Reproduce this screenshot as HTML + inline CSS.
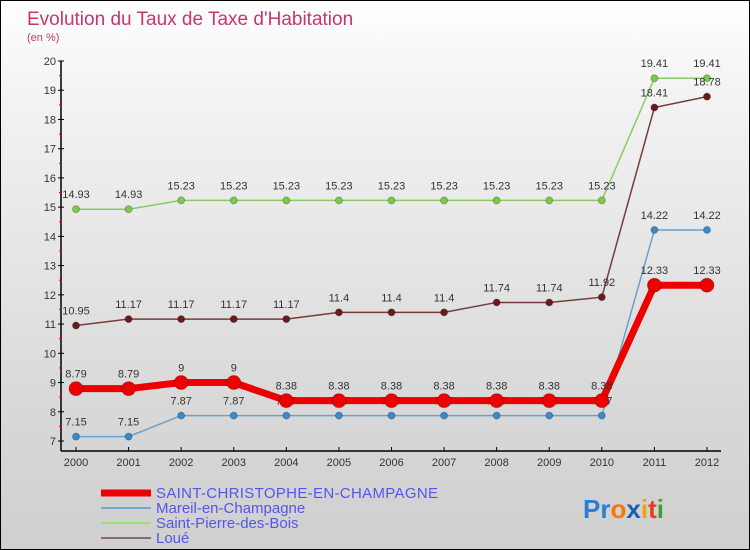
<!DOCTYPE html>
<html><head><meta charset="utf-8"><style>
body{margin:0;}
#c{position:relative;width:748px;height:548px;border:1px solid #000;background:linear-gradient(#fff,#f4f4f4 15%,#d8d8d8 75%,#cfcfcf);font-family:"Liberation Sans",sans-serif;overflow:hidden}
</style></head><body>
<div id="c">
<svg id="s" width="748" height="548" xmlns="http://www.w3.org/2000/svg" style="position:absolute;left:0;top:0">
<text x="26" y="24" font-size="19" fill="#c8356a">Evolution du Taux de Taxe d'Habitation</text>
<text x="26" y="40" font-size="11" fill="#c8356a">(en %)</text>
<g id="axes"></g><g id="series"></g>
<g font-size="15" fill="#5555ee">
<line x1="100" y1="492" x2="150" y2="492" stroke="#e00" stroke-width="7"/>
<text x="155" y="497" textLength="282">SAINT-CHRISTOPHE-EN-CHAMPAGNE</text>
<line x1="100" y1="507" x2="150" y2="507" stroke="#7aa6cc" stroke-width="2"/>
<text x="155" y="512">Mareil-en-Champagne</text>
<line x1="100" y1="522" x2="150" y2="522" stroke="#99dd77" stroke-width="2"/>
<text x="155" y="527">Saint-Pierre-des-Bois</text>
<line x1="100" y1="537" x2="150" y2="537" stroke="#8a6a6a" stroke-width="2"/>
<text x="155" y="542">Loué</text>
</g>
<text x="582" y="517" font-size="26" font-weight="bold"><tspan fill="#2a7fd0">Pr</tspan><tspan fill="#f07a10">o</tspan><tspan fill="#1a5fb0">x</tspan><tspan fill="#f0a010">i</tspan><tspan fill="#e04020">t</tspan><tspan fill="#40a030">i</tspan></text>
</svg></div>
<script>
const years=[2000,2001,2002,2003,2004,2005,2006,2007,2008,2009,2010,2011,2012];
const yTicks=[7,8,9,10,11,12,13,14,15,16,17,18,19,20];
const stChristophe=[8.79,8.79,9,9,8.38,8.38,8.38,8.38,8.38,8.38,8.38,12.33,12.33];
const mareil=[7.15,7.15,7.87,7.87,7.87,7.87,7.87,7.87,7.87,7.87,7.87,14.22,14.22];
const stPierre=[14.93,14.93,15.23,15.23,15.23,15.23,15.23,15.23,15.23,15.23,15.23,19.41,19.41];
const loue=[10.95,11.17,11.17,11.17,11.17,11.4,11.4,11.4,11.74,11.74,11.92,18.41,18.78];
const NS="http://www.w3.org/2000/svg";
const X=i=>75+i*(706-75)/(years.length-1);
const Y=v=>60+(20-v)*(440-60)/13;
function mk(p,t,a){const e=document.createElementNS(NS,t);for(const k in a)e.setAttribute(k,a[k]);p.appendChild(e);return e;}
const ax=document.getElementById('axes');
let e=mk(ax,'line',{x1:60,y1:Y(20),x2:60,y2:450,stroke:'#000','stroke-width':1.5});


e=mk(ax,'line',{x1:60,y1:450,x2:720,y2:450,stroke:'#000','stroke-width':1.5});


yTicks.forEach(v=>{
 mk(ax,'line',{x1:57,y1:Y(v),x2:63,y2:Y(v),stroke:'#000'});
 if(v<20)mk(ax,'line',{x1:58,y1:Y(v+0.5),x2:61,y2:Y(v+0.5),stroke:'#e00'});
 const t=mk(ax,'text',{x:55,y:Y(v)+4,'font-size':11,fill:'#333','text-anchor':'end'});t.textContent=v;
 
 
});
years.forEach((y,i)=>{
 mk(ax,'line',{x1:X(i),y1:446,x2:X(i),y2:450,stroke:'#000'});
 const t=mk(ax,'text',{x:X(i),y:465,'font-size':11,fill:'#333','text-anchor':'middle'});t.textContent=y;
 
 
});
const sg=document.getElementById('series');
function draw(data,color,w,r,fill,name){
 const g=mk(sg,'g',{});
 
 
 const pl=mk(g,'polyline',{points:data.map((v,i)=>X(i)+','+Y(v)).join(' '),fill:'none',stroke:color,'stroke-width':w});
 
 
 data.forEach((v,i)=>{
  const c=mk(g,'circle',{cx:X(i),cy:Y(v),r:r,fill:fill,stroke:'rgba(0,0,0,0.25)'});
  
  
  const t=mk(g,'text',{x:X(i),y:Y(v)-11,'font-size':11,fill:'#333','text-anchor':'middle'});t.textContent=v;
  
  
 });
}
draw(stPierre,'#88cc66',1.5,3.5,'#7acc44','saint-pierre');
draw(loue,'#7a3a3a',1.5,3.5,'#6a1a1a','loue');
draw(mareil,'#6aa0cc',1.5,3.5,'#3a8acc','mareil');
draw(stChristophe,'#ee0000',7,7,'#ee0000','saint-christophe');
</script>
</body></html>
